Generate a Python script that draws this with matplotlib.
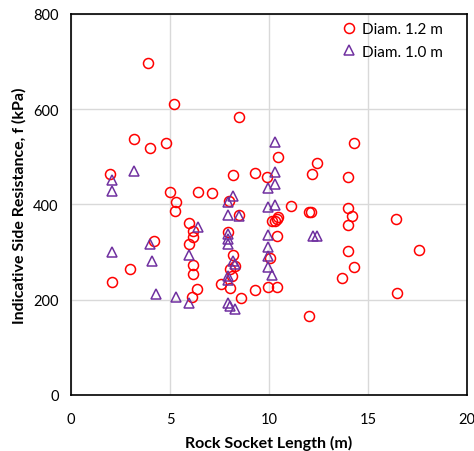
import matplotlib
matplotlib.use("Agg")
import matplotlib.pyplot as plt

# Diam. 1.2 m (red circles)
x_12 = [3.87, 5.20, 3.20, 3.97, 4.80, 1.97, 5.0, 5.3, 5.25, 6.4, 7.1, 8.5, 10.47, 12.41,
        12.17, 8.16, 9.29, 9.88, 8.0, 11.1, 12.0, 12.12, 8.5, 10.13, 10.3, 10.39, 10.47,
        5.98, 6.18, 6.18, 5.98, 4.21, 2.98, 2.09, 6.18, 6.18, 6.35, 6.09, 7.95, 8.2, 8.28,
        8.05, 8.11, 7.55, 8.05, 8.6, 9.3, 10.39, 10.05, 9.97, 10.39, 12.0, 14.31, 14.0,
        14.0, 14.21, 14.0, 16.41, 17.59, 14.0, 14.29, 13.70, 16.48]
f_12 = [697, 611, 537, 519, 529, 464, 426, 405, 387, 426, 424, 584, 500, 487,
        464, 462, 466, 457, 408, 397, 384, 384, 377, 366, 366, 370, 374,
        360, 345, 331, 316, 323, 264, 237, 273, 253, 223, 206, 342, 293, 270,
        264, 250, 233, 224, 204, 221, 334, 288, 227, 226, 166, 529, 457,
        393, 375, 357, 370, 305, 303, 268, 246, 214]

# Diam. 1.0 m (purple triangles)
x_10 = [3.2, 2.09, 2.09, 10.3, 10.3, 10.3, 9.97, 8.2, 7.95, 9.97, 10.3, 7.95, 8.48, 6.4,
        3.99, 2.09, 4.11, 5.96, 4.29, 5.3, 5.96, 7.95, 7.95, 7.95, 8.2, 8.28, 7.95, 7.95,
        7.95, 8.05, 8.28, 9.97, 9.97, 9.97, 9.97, 10.13, 12.2, 12.45]
f_10 = [471, 452, 428, 532, 468, 442, 434, 417, 406, 394, 398, 377, 375, 352,
        316, 300, 282, 293, 212, 206, 194, 337, 327, 316, 282, 275, 250, 241,
        193, 186, 181, 335, 310, 291, 268, 251, 333, 333]

x_ticks = [0, 5, 10, 15, 20]
y_ticks = [0, 200, 400, 600, 800]

plt.rcParams['font.family'] = ['Lato', 'DejaVu Sans']

fig = plt.figure(figsize=(4.74, 4.52), dpi=100)
ax = fig.add_axes([0.150, 0.124, 0.835, 0.843])

ax.plot(x_12, f_12, linestyle='none', marker='o', markersize=7.2,
        markerfacecolor='none', markeredgecolor='#FF0000', markeredgewidth=1.1,
        label='Diam. 1.2 m', zorder=3)
ax.plot(x_10, f_10, linestyle='none', marker='^', markersize=7.5,
        markerfacecolor='none', markeredgecolor='#7030A0', markeredgewidth=1.1,
        label='Diam. 1.0 m', zorder=3)

ax.set_xlim(0, 20)
ax.set_ylim(0, 800)
ax.set_xticks(x_ticks)
ax.set_yticks(y_ticks)
ax.tick_params(length=0, labelsize=10.5)
ax.tick_params(axis='x', pad=12)
ax.tick_params(axis='y', pad=9)
ax.grid(True, color='#D9D9D9', linewidth=1.0, zorder=0)
ax.set_axisbelow(True)
for s in ax.spines.values():
    s.set_color('black')
    s.set_linewidth(1.2)

ax.set_xlabel('Rock Socket Length (m)', fontsize=11.5, fontweight='bold', labelpad=7)
ax.set_ylabel('Indicative Side Resistance, f (kPa)', fontsize=11.5, fontweight='bold', labelpad=5)

leg = ax.legend(loc='upper right', bbox_to_anchor=(0.96, 1.0), frameon=False,
                fontsize=11, handletextpad=0.35, handlelength=1.0,
                borderaxespad=0.15, labelspacing=0.55)

fig.savefig('out.png', dpi=100)
